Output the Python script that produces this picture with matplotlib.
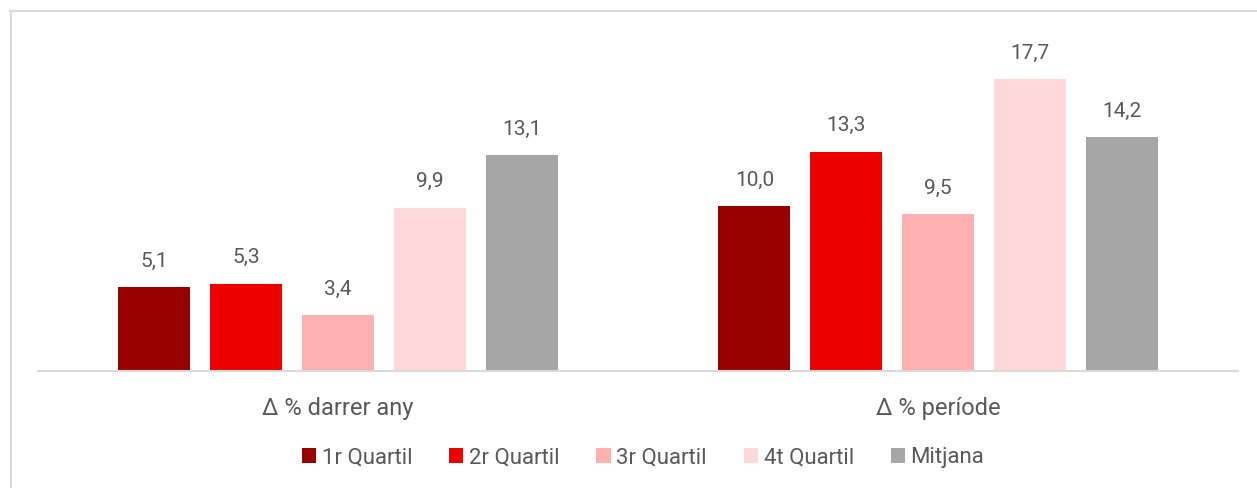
import numpy as np
import matplotlib.pyplot as plt
from matplotlib.lines import Line2D

plt.rcParams['font.family'] = ['Roboto', 'DejaVu Sans']

categories = ['Δ % darrer any', 'Δ % període']
series = ['1r Quartil', '2r Quartil', '3r Quartil', '4t Quartil', 'Mitjana']
values = [
    [5.1, 10.0],
    [5.3, 13.3],
    [3.4, 9.5],
    [9.9, 17.7],
    [13.1, 14.2],
]
colors = ['#990000', '#EE0000', '#FFB0B0', '#FFD9D9', '#A6A6A6']
text_color = '#595959'

fig = plt.figure(figsize=(12.57, 4.88), dpi=100)
ax = fig.add_axes([38 / 1257, 1 - 371 / 488, 1200 / 1257, 351 / 488])

x = np.arange(len(categories))
width = 0.12
step = 0.153
for i, (name, vals, col) in enumerate(zip(series, values, colors)):
    pos = x + (i - 2) * step
    bars = ax.bar(pos, vals, width, color=col, label=name)
    for b, v in zip(bars, vals):
        ax.text(b.get_x() + b.get_width() / 2, v + 1.0, f'{v:.1f}'.replace('.', ','),
                ha='center', va='bottom', fontsize=15, color=text_color)

ax.set_xlim(-0.5, 1.5)
ax.set_ylim(0, 21.3)
ax.set_yticks([])
ax.set_xticks(x)
ax.set_xticklabels(categories, fontsize=17, color=text_color)
ax.tick_params(axis='x', length=0, pad=19)
for s in ['top', 'right', 'left']:
    ax.spines[s].set_visible(False)
ax.spines['bottom'].set_color('#D9D9D9')
ax.spines['bottom'].set_linewidth(1.5)

leg = fig.legend(loc='center', bbox_to_anchor=(643 / 1257, 1 - 458 / 488), ncol=5,
                 frameon=False, fontsize=16, handlelength=0.65, handleheight=0.65,
                 handletextpad=0.25, columnspacing=1.65)
for t in leg.get_texts():
    t.set_color(text_color)

# chart frame (top and left edges visible)
fig.add_artist(Line2D([10 / 1257, 1], [1 - 11 / 488, 1 - 11 / 488], color='#D9D9D9', lw=1.5))
fig.add_artist(Line2D([11 / 1257, 11 / 1257], [0, 1 - 11 / 488], color='#D9D9D9', lw=1.5))

fig.savefig('out.png', dpi=100, facecolor='white')
